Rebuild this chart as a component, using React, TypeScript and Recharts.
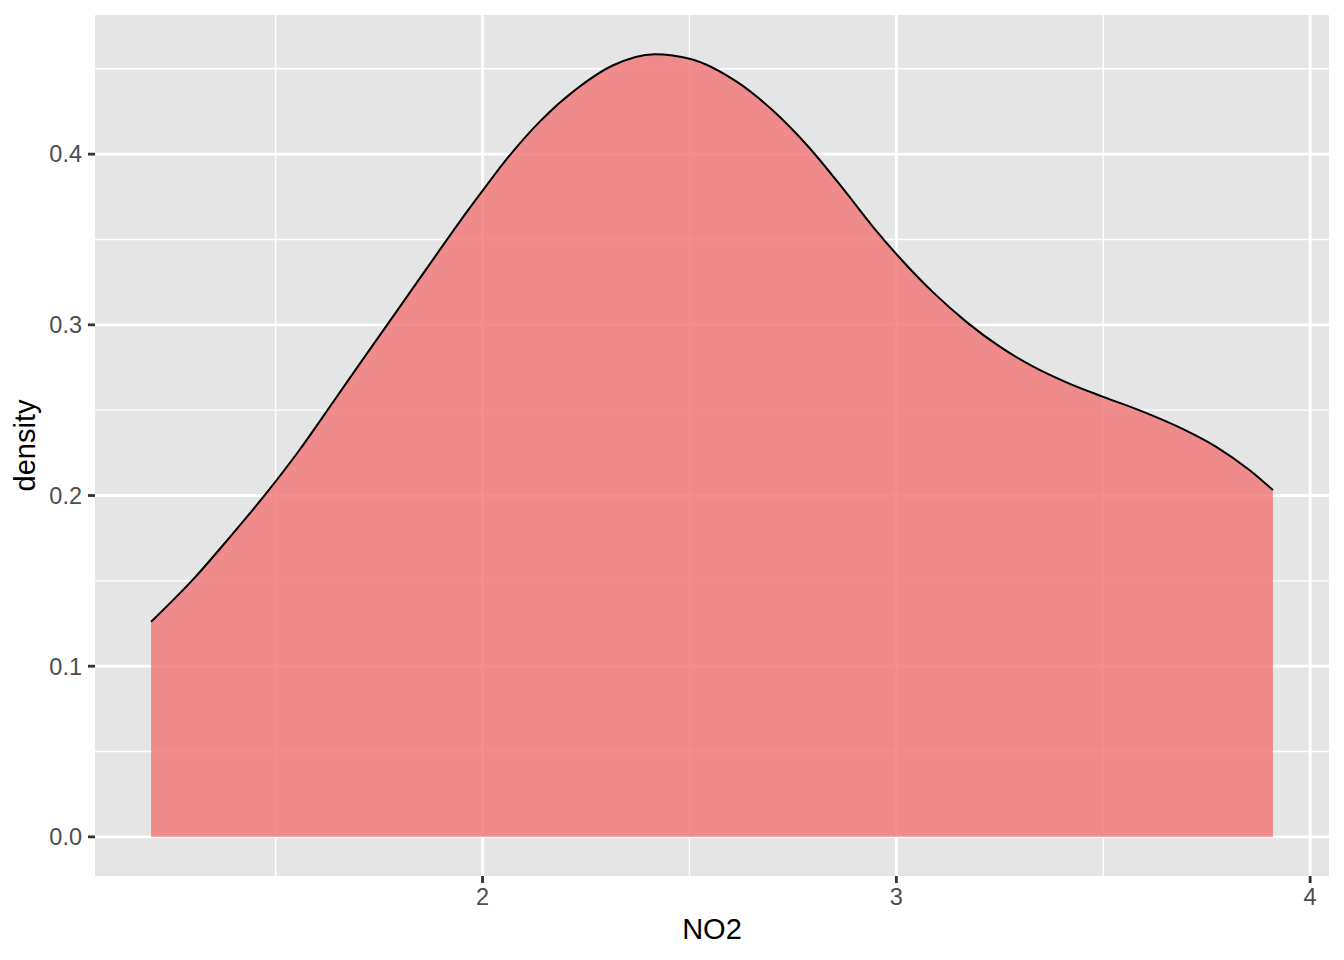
import React from 'react';
import {
  AreaChart,
  Area,
  XAxis,
  YAxis,
  CartesianGrid,
  Label
} from 'recharts';

// density estimate of NO2
const no2Values = [
  1.199, 1.305, 1.390, 1.478, 1.558, 1.639, 1.720, 1.800, 1.881, 1.945,
  2.002, 2.063, 2.140, 2.226, 2.313, 2.416, 2.503, 2.615, 2.701, 2.788,
  2.874, 2.947, 3.008, 3.089, 3.170, 3.250, 3.331, 3.411, 3.500, 3.588,
  3.693, 3.774, 3.854, 3.910
];
const densityValues = [
  0.1260, 0.1520, 0.1758, 0.2015, 0.2268, 0.2548, 0.2830, 0.3105, 0.3385, 0.3605,
  0.3792, 0.3985, 0.4195, 0.4380, 0.4518, 0.4586, 0.4558, 0.4423, 0.4257, 0.4042,
  0.3789, 0.3564, 0.3393, 0.3190, 0.3016, 0.2872, 0.2755, 0.2663, 0.2578, 0.2499,
  0.2389, 0.2284, 0.2148, 0.2032
];

const xMajorTicks = [2, 3, 4];
const xMinorTicks = [1.5, 2.5, 3.5];
const yMajorTicks = [0, 0.1, 0.2, 0.3, 0.4];
const yMinorTicks = [0.05, 0.15, 0.25, 0.35, 0.45];

const data = no2Values.map((x, i) => ({ x, y: densityValues[i] }));

// ggplot-style 5% expansion around the data range
const expand = (lo: number, hi: number): [number, number] => {
  const pad = (hi - lo) * 0.05;
  return [lo - pad, hi + pad];
};
const xDomain = expand(Math.min(...no2Values), Math.max(...no2Values));
const yDomain = expand(0, Math.max(...densityValues));

const FONT = 'Liberation Sans, Arial, Helvetica, sans-serif';

const XTitle = (props: any) => {
  const { x, y, width, height } = props.viewBox;
  return (
    <text
      x={x + width / 2}
      y={y + height - 21}
      textAnchor="middle"
      fontFamily={FONT}
      fontSize={29}
      fill="#000000"
    >
      NO2
    </text>
  );
};

const YTitle = (props: any) => {
  const { y, height } = props.viewBox;
  const cx = 34.5;
  const cy = y + height / 2;
  return (
    <text
      x={cx}
      y={cy}
      transform={`rotate(-90 ${cx} ${cy})`}
      textAnchor="middle"
      fontFamily={FONT}
      fontSize={29}
      fill="#000000"
    >
      density
    </text>
  );
};

export default function App() {
  return (
    <div style={{ position: 'absolute', left: 0, top: 0, width: 1344, height: 960, background: '#ffffff' }}>
      <AreaChart
        width={1344}
        height={960}
        data={data}
        margin={{ top: 15, right: 15, left: 0, bottom: 0 }}
      >
        <CartesianGrid
          fill="#E5E5E5"
          stroke="#FFFFFF"
          strokeWidth={1.4}
          verticalValues={xMinorTicks}
          horizontalValues={yMinorTicks}
        />
        <CartesianGrid
          stroke="#FFFFFF"
          strokeWidth={2.8}
          verticalValues={xMajorTicks}
          horizontalValues={yMajorTicks}
        />
        <XAxis
          type="number"
          dataKey="x"
          domain={xDomain}
          ticks={xMajorTicks}
          allowDataOverflow
          axisLine={false}
          tickLine={{ stroke: '#333333', strokeWidth: 2.8 }}
          tickSize={7}
          tickMargin={5}
          tick={{ fill: '#4D4D4D', fontSize: 23.5, fontFamily: FONT }}
          height={84}
        >
          <Label content={XTitle} />
        </XAxis>
        <YAxis
          type="number"
          domain={yDomain}
          ticks={yMajorTicks}
          allowDataOverflow
          axisLine={false}
          tickLine={{ stroke: '#333333', strokeWidth: 2.8 }}
          tickSize={7}
          tickMargin={6}
          tickFormatter={(v: number) => v.toFixed(1)}
          tick={{ fill: '#4D4D4D', fontSize: 23.5, fontFamily: FONT }}
          width={95}
        >
          <Label content={YTitle} />
        </YAxis>
        <Area
          type="monotone"
          dataKey="y"
          baseValue={0}
          stroke="#000000"
          strokeWidth={2}
          fill="#F27B7B"
          fillOpacity={0.85}
          dot={false}
          activeDot={false}
          isAnimationActive={false}
        />
      </AreaChart>
    </div>
  );
}
